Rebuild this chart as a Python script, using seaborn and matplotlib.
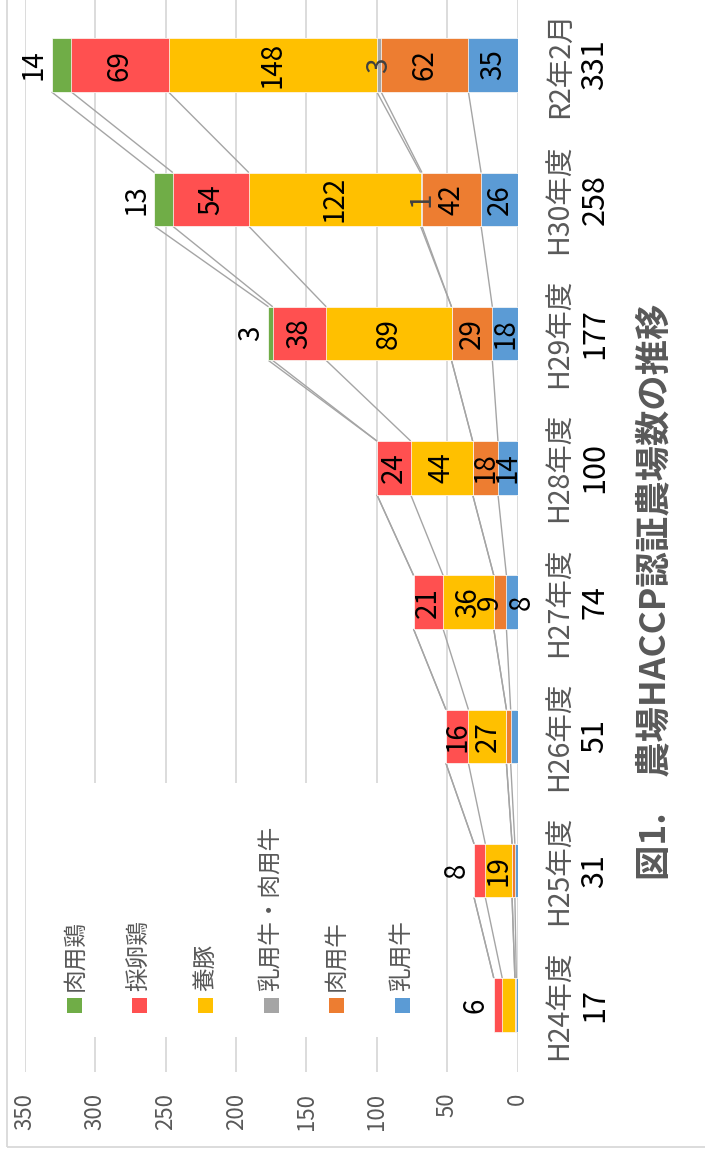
import numpy as np
import pandas as pd
import matplotlib
matplotlib.use("Agg")
import matplotlib.pyplot as plt
import matplotlib.transforms as mtransforms
from matplotlib.patches import Rectangle
import seaborn as sns

# ---------------- data ----------------
categories = ["H24年度", "H25年度", "H26年度", "H27年度", "H28年度", "H29年度", "H30年度", "R2年2月"]
totals = [17, 31, 51, 74, 100, 177, 258, 331]
series_names = ["乳用牛", "肉用牛", "乳用牛・肉用牛", "養豚", "採卵鶏", "肉用鶏"]  # stacked from 0 outward
dairy = [1, 2, 5, 8, 14, 18, 26, 35]
beef = [1, 2, 3, 9, 18, 29, 42, 62]
dairy_beef = [0, 0, 0, 0, 0, 0, 1, 3]
pig = [9, 19, 27, 36, 44, 89, 122, 148]
layer = [6, 8, 16, 21, 24, 38, 54, 69]
broiler = [0, 0, 0, 0, 0, 3, 13, 14]
value_ticks = [0, 50, 100, 150, 200, 250, 300, 350]
title = "図1.　農場HACCP認証農場数の推移"

series = [dairy, beef, dairy_beef, pig, layer, broiler]
colors = ["#5B9BD5", "#ED7D31", "#A5A5A5", "#FFC000", "#FF5050", "#70AD47"]

# ---------------- style ----------------
sns.set_theme(style="white")
FONT = ["Noto Sans CJK JP", "DejaVu Sans"]
plt.rcParams["font.family"] = FONT

W, H = 705, 1153
fig = plt.figure(figsize=(W / 100, H / 100), dpi=100)
fig.patch.set_facecolor("white")


def fx(x):
    return x / W


def fy(y):
    return 1 - y / H


ax = fig.add_axes([fx(24.9), fy(1072), 492.8 / W, 1074 / H])

cum = np.cumsum(np.array(series, dtype=float), axis=0)
order = categories[::-1]
pos = {c: order.index(c) for c in categories}

df = pd.DataFrame({"category": categories})
for k in reversed(range(len(series))):
    df["v"] = cum[k]
    sns.barplot(data=df, x="v", y="category", order=order, color=colors[k],
                width=0.4, orient="h", errorbar=None, saturation=1,
                edgecolor="white", linewidth=0.5, ax=ax, zorder=3)

# series lines
for i in range(len(categories) - 1):
    y0 = pos[categories[i]] - 0.2
    y1 = pos[categories[i + 1]] + 0.2
    for k in range(len(series)):
        ax.plot([cum[k][i], cum[k][i + 1]], [y0, y1], color="#A5A5A5",
                lw=1.0, zorder=2, solid_capstyle="butt")

ax.set_xlim(350, 0)
ax.set_ylim(len(categories) - 0.5, -0.5)
ax.set_xticks(value_ticks)
ax.set_xticklabels([str(t) for t in value_ticks])
ax.tick_params(axis="x", length=0, pad=15, labelsize=16, labelcolor="#595959",
               labelrotation=90)
ax.tick_params(axis="y", left=False, labelleft=False)
ax.set_xlabel("")
ax.set_ylabel("")
for s in ax.spines.values():
    s.set_visible(False)
ax.grid(axis="x", color="#D9D9D9", lw=1.3)
ax.grid(axis="y", visible=False)
ax.set_axisbelow(True)

# data labels
px_per_unit = 492.8 / 350
min_show = {0: 8, 1: 9, 3: 10}
lab_kw = dict(rotation=90, fontsize=20, textcoords="offset points",
              annotation_clip=False, zorder=5)
for i, c in enumerate(categories):
    y = pos[c]
    # centres for small inner labels (dairy / beef), with overlap nudge
    centres = {}
    for k in (0, 1):
        v = series[k][i]
        if v >= min_show[k]:
            centres[k] = (cum[k][i] - v / 2) * px_per_unit
    shifts = {0: 0.0, 1: 0.0}
    if 0 in centres and 1 in centres:
        d = centres[1] - centres[0]
        if d < 22:
            extra = (32 - d) / 2
            shifts[0] = -extra
            shifts[1] = extra
    for k in range(len(series)):
        v = series[k][i]
        mid = cum[k][i] - v / 2
        if k == 5:
            if v > 0:
                ax.annotate(str(v), (cum[k][i], y), xytext=(-2, 0), ha="right",
                            va="center", color="black", **lab_kw)
        elif k == 4:
            if v < 10:
                ax.annotate(str(v), (cum[k][i], y), xytext=(-2, 0), ha="right",
                            va="center", color="black", **lab_kw)
            else:
                ax.annotate(str(v), (mid, y), xytext=(0, 0), ha="center",
                            va="center", color="black", **lab_kw)
        elif k == 2:
            if v > 0:
                ax.annotate(str(v), (mid, y), xytext=(0, 0), ha="center",
                            va="center", color="#404040", **lab_kw)
        elif k == 3:
            if v >= min_show[k]:
                ax.annotate(str(v), (mid, y), xytext=(0, 0), ha="center",
                            va="center", color="black", **lab_kw)
        else:
            if k in centres:
                # positive pixel shift means further from zero -> leftwards
                ax.annotate(str(v), (mid, y), xytext=(-shifts[k] * 0.72, 0),
                            ha="center", va="center", color="black", **lab_kw)

# category labels
trans = mtransforms.blended_transform_factory(ax.transAxes, ax.transData)
x_name = (560 - 24.9) / 492.8
x_tot = (595 - 24.9) / 492.8
for c, t in zip(categories, totals):
    ax.text(x_name, pos[c], c, rotation=90, ha="center", va="center",
            color="#595959", fontsize=20.5, transform=trans, clip_on=False)
    ax.text(x_tot, pos[c], str(t), rotation=90, ha="center", va="center",
            color="black", fontsize=22, transform=trans, clip_on=False)

# legend (rotated, drawn manually)
fig.patches.append(Rectangle((fx(30), fy(1037)), (425 - 30) / W, (1037 - 783) / H,
                             transform=fig.transFigure, facecolor="white",
                             edgecolor="none", zorder=1))
legend_x = [74.5, 139.5, 205.5, 271.5, 336.5, 402.5]
for j, k in enumerate(reversed(range(len(series)))):
    cx = legend_x[j]
    fig.patches.append(Rectangle((fx(cx - 7.5), fy(1013)), 15 / W, 15 / H,
                                 transform=fig.transFigure, facecolor=colors[k],
                                 edgecolor="none", zorder=2))
    fig.text(fx(cx), fy(991), series_names[k], rotation=90, ha="center",
             va="bottom", color="#595959", fontsize=17, zorder=3)

# title
fig.text(fx(655), fy(592), title, rotation=90, ha="center", va="center",
         color="#595959", fontsize=25.5, fontweight="bold")

# outer chart border
fig.patches.append(Rectangle((fx(7), 1 - 1147 / H), 1, 1.2, transform=fig.transFigure,
                             fill=False, edgecolor="#D9D9D9", lw=1.3, zorder=0))

fig.savefig("out.png", dpi=100)
